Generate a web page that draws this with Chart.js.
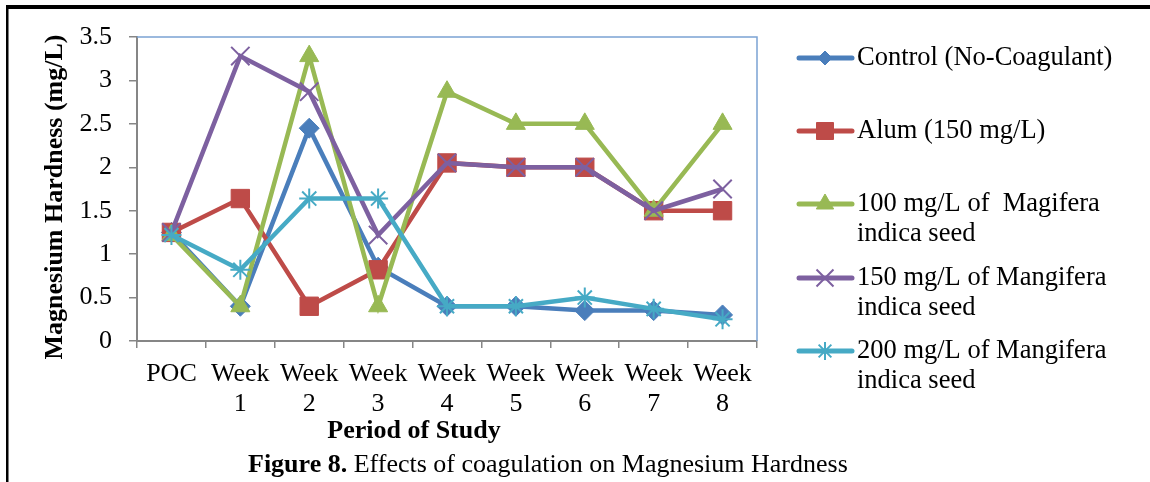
<!DOCTYPE html>
<html>
<head>
<meta charset="utf-8">
<title>Magnesium Hardness</title>
<script src="https://cdn.jsdelivr.net/npm/chart.js@4.4.0/dist/chart.umd.min.js"></script>
<style>
    html, body { margin: 0; padding: 0; background: #fff; overflow: hidden; }
    canvas { display: block; }
</style>
</head>
<body>
<canvas id="mgChart" width="1150" height="482"></canvas>
<script>
// Period labels (multi-line like the original axis)
const periods = ['POC', ['Week', '1'], ['Week', '2'], ['Week', '3'], ['Week', '4'],
                 ['Week', '5'], ['Week', '6'], ['Week', '7'], ['Week', '8']];

// Magnesium hardness (mg/L)
const controlVals = [1.25, 0.40, 2.45, 0.85, 0.40, 0.40, 0.35, 0.35, 0.30];
const alumVals    = [1.25, 1.64, 0.40, 0.82, 2.05, 2.00, 2.00, 1.50, 1.50];
const seed100Vals = [1.22, 0.40, 3.28, 0.40, 2.87, 2.50, 2.50, 1.50, 2.50];
const seed150Vals = [1.25, 3.28, 2.87, 1.22, 2.05, 2.00, 2.00, 1.50, 1.75];
const seed200Vals = [1.22, 0.82, 1.64, 1.64, 0.40, 0.40, 0.50, 0.37, 0.25];

const seriesNames = [
    ['Control (No-Coagulant)'],
    ['Alum (150 mg/L)'],
    ['100 mg/L of  Magifera', 'indica seed'],
    ['150 mg/L of Mangifera', 'indica seed'],
    ['200 mg/L of Mangifera', 'indica seed']
];

const yTicks = { min: 0, max: 3.5, step: 0.5 };

const SERIF = "'Liberation Serif', 'Times New Roman', serif";
const axisGray = '#868686';

// series look: colour, marker, plot radius, legend radius
const looks = [
    { color: '#4A7EBB', style: 'rectRot',  r: 10, lr: 7,  bw: 1 },
    { color: '#BE4B48', style: 'rect',     r: 13, lr: 12, bw: 1 },
    { color: '#98B954', style: 'triangle', r: 11, lr: 10, bw: 1 },
    { color: '#7D60A0', style: 'crossRot', r: 13, lr: 12, bw: 2 },
    { color: '#46AAC5', style: 'star',     r: 10, lr: 9,  bw: 2 }
];

const allVals = [controlVals, alumVals, seed100Vals, seed150Vals, seed200Vals];

const datasets = allVals.map(function(vals, i) {
    const lk = looks[i];
    return {
        label: seriesNames[i].join(' '),
        data: vals,
        borderColor: lk.color,
        backgroundColor: lk.color,
        borderWidth: 4.5,
        pointStyle: lk.style,
        pointRadius: lk.r,
        pointHoverRadius: lk.r,
        pointBorderColor: lk.color,
        pointBackgroundColor: lk.color,
        pointBorderWidth: lk.bw,
        tension: 0,
        fill: false,
        clip: false,
        order: 4 - i
    };
});

// frame, blue plot border, axis titles, caption and legend
const decorations = {
    id: 'decorations',
    beforeDatasetsDraw(chart) {
        const ctx = chart.ctx;
        const a = chart.chartArea;
        ctx.save();
        ctx.strokeStyle = '#7BA3D4';
        ctx.lineWidth = 1.5;
        ctx.beginPath();
        ctx.moveTo(a.left, a.top);
        ctx.lineTo(a.right, a.top);
        ctx.lineTo(a.right, a.bottom);
        ctx.stroke();
        ctx.restore();
    },
    afterDraw(chart) {
        const ctx = chart.ctx;
        ctx.save();

        // outer figure frame: only the top and left edges fall inside the picture
        ctx.fillStyle = '#000';
        ctx.fillRect(6, 5, 1144, 4);
        ctx.fillRect(6, 5, 2.5, 477);

        ctx.textBaseline = 'middle';

        // y axis title
        ctx.save();
        ctx.translate(55, 197);
        ctx.rotate(-Math.PI / 2);
        ctx.textAlign = 'center';
        ctx.font = 'bold 26px ' + SERIF;
        ctx.fillText('Magnesium Hardness (mg/L)', 0, 0);
        ctx.restore();

        // x axis title
        ctx.textAlign = 'center';
        ctx.font = 'bold 26px ' + SERIF;
        ctx.fillText('Period of Study', 414, 431);

        // caption
        ctx.textAlign = 'left';
        ctx.font = 'bold 26px ' + SERIF;
        const lead = 'Figure 8.';
        ctx.fillText(lead, 248, 465);
        const leadW = ctx.measureText(lead).width;
        ctx.font = '26px ' + SERIF;
        ctx.fillText(' Effects of coagulation on Magnesium Hardness', 248 + leadW, 465);

        // legend
        const legendY = [58, 131, 204, 278, 351];
        looks.forEach(function(lk, i) {
            const y = legendY[i];
            ctx.strokeStyle = lk.color;
            ctx.fillStyle = lk.color;
            ctx.lineWidth = 5;
            ctx.lineCap = 'round';
            ctx.beginPath();
            ctx.moveTo(799, y);
            ctx.lineTo(852, y);
            ctx.stroke();
            ctx.lineCap = 'butt';
            ctx.lineWidth = lk.bw;
            Chart.helpers.drawPoint(ctx, {
                pointStyle: lk.style, radius: lk.lr, rotation: 0, borderWidth: lk.bw
            }, 825, y);

            ctx.fillStyle = '#000';
            ctx.font = '26.5px ' + SERIF;
            ctx.textAlign = 'left';
            seriesNames[i].forEach(function(line, k) {
                ctx.fillText(line, 857, y + k * 30);
            });
        });
        ctx.restore();
    }
};

const ctx = document.getElementById('mgChart').getContext('2d');
new Chart(ctx, {
    type: 'line',
    data: { labels: periods, datasets: datasets },
    options: {
        responsive: false,
        animation: false,
        devicePixelRatio: 1,
        layout: { padding: { left: 0, top: 37, right: 393, bottom: 0 } },
        plugins: {
            legend: { display: false },
            tooltip: { enabled: false },
            title: { display: false }
        },
        scales: {
            x: {
                type: 'category',
                offset: true,
                afterFit: function(scale) { scale.height = 141; },
                grid: {
                    offset: true,
                    drawOnChartArea: false,
                    drawTicks: true,
                    tickLength: 7,
                    color: axisGray,
                    lineWidth: 1.5
                },
                border: { display: true, color: axisGray, width: 2 },
                ticks: {
                    autoSkip: false,
                    maxRotation: 0,
                    minRotation: 0,
                    padding: 12,
                    color: '#000',
                    font: { family: SERIF, size: 26, lineHeight: 1.12 }
                }
            },
            y: {
                min: yTicks.min,
                max: yTicks.max,
                afterFit: function(scale) { scale.width = 137; },
                grid: {
                    drawOnChartArea: false,
                    drawTicks: true,
                    tickLength: 8,
                    color: axisGray,
                    lineWidth: 1.5
                },
                border: { display: true, color: axisGray, width: 2 },
                ticks: {
                    stepSize: yTicks.step,
                    padding: 17,
                    color: '#000',
                    font: { family: SERIF, size: 26 },
                    callback: function(value) { return String(Number(value)); }
                }
            }
        }
    },
    plugins: [decorations]
});
</script>
</body>
</html>
